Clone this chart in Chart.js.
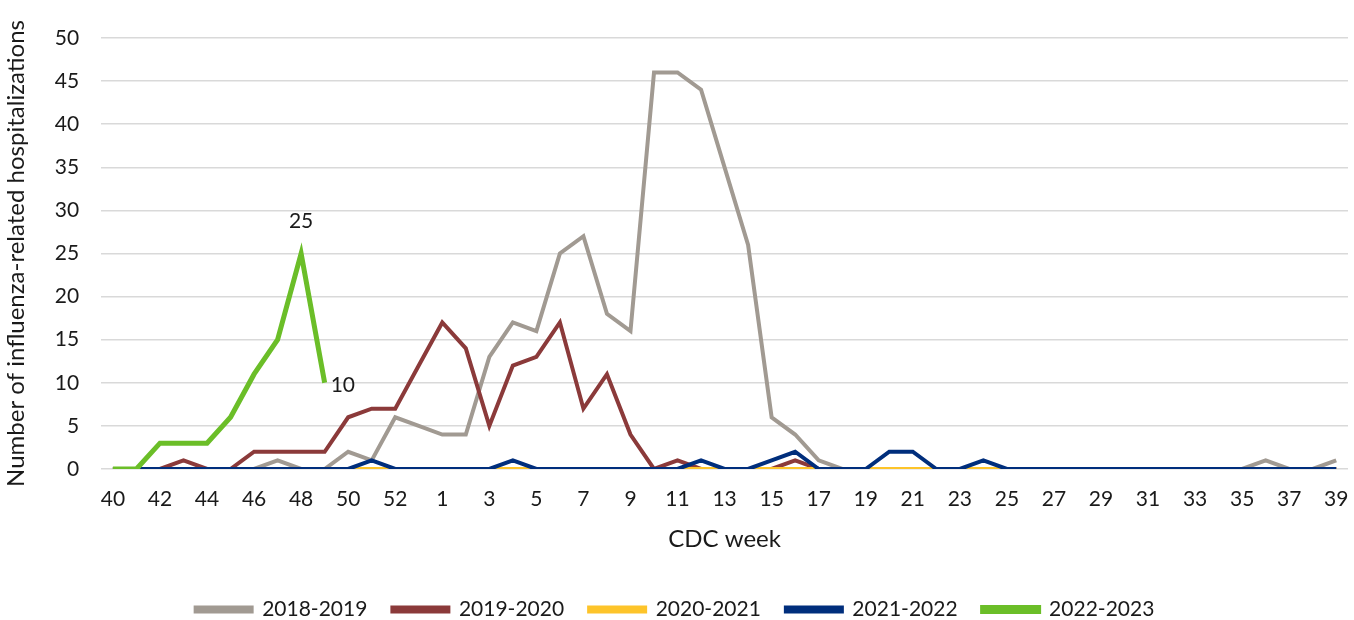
<!DOCTYPE html>
<html>
<head>
<meta charset="utf-8">
<script src="https://cdn.jsdelivr.net/npm/chart.js@4.4.0/dist/chart.umd.min.js"></script>
<style>
  body { margin: 0; background: #fff; }
  #wrap { width: 1354px; height: 620px; position: relative; }
</style>
</head>
<body>
<div id="wrap"><canvas id="myChart"></canvas></div>
<script>
// CDC weeks (season runs week 40 to week 39, with week 53)
const weeks = [40,41,42,43,44,45,46,47,48,49,50,51,52,53,1,2,3,4,5,6,7,8,9,10,11,12,13,14,15,16,17,18,19,20,21,22,23,24,25,26,27,28,29,30,31,32,33,34,35,36,37,38,39];

const s2018 = [0,0,0,0,0,0,0,1,0,0,2,1,6,5,4,4,13,17,16,25,27,18,16,46,46,44,35,26,6,4,1,0,0,0,0,0,0,0,0,0,0,0,0,0,0,0,0,0,0,1,0,0,1];
const s2019 = [0,0,0,1,0,0,2,2,2,2,6,7,7,12,17,14,5,12,13,17,7,11,4,0,1,0,0,0,0,1,0,0,0,0,0,0,0,0,0,0,0,0,0,0,0,0,0,0,0,0,0,0,0];
const s2020 = [0,0,0,0,0,0,0,0,0,0,0,0,0,0,0,0,0,0,0,0,0,0,0,0,0,0,0,0,0,0,0,0,0,0,0,0,0,0,0,0,0,0,0,0,0,0,0,0,0,0,0,0,0];
const s2021 = [0,0,0,0,0,0,0,0,0,0,0,1,0,0,0,0,0,1,0,0,0,0,0,0,0,1,0,0,1,2,0,0,0,2,2,0,0,1,0,0,0,0,0,0,0,0,0,0,0,0,0,0,0];
const s2022 = [0,0,3,3,3,6,11,15,25,10];

const yTicks = [0,5,10,15,20,25,30,35,40,45,50];
const font = 'Lato, "Open Sans", sans-serif';

// value labels on the current season
const pointLabels = {
  id: 'pointLabels',
  afterDatasetsDraw(chart) {
    const meta = chart.getDatasetMeta(4);
    const ctx = chart.ctx;
    ctx.save();
    ctx.fillStyle = '#1a1a1a';
    ctx.font = '21px ' + font;
    ctx.textBaseline = 'middle';
    const peak = meta.data[8];
    ctx.textAlign = 'center';
    ctx.fillText(String(s2022[8]), peak.x, peak.y - 32);
    const last = meta.data[9];
    ctx.textAlign = 'left';
    ctx.fillText(String(s2022[9]), last.x + 6, last.y + 2);
    ctx.restore();
  }
};

function line(label, data, color, width, order) {
  return {
    label: label,
    data: data,
    borderColor: color,
    backgroundColor: color,
    borderWidth: width,
    pointRadius: 0,
    pointHoverRadius: 0,
    tension: 0,
    fill: false,
    order: order
  };
}

let myChart = document.getElementById('myChart').getContext('2d');
let fluChart = new Chart(myChart, {
  type: 'line',
  data: {
    labels: weeks,
    datasets: [
      line('2018-2019', s2018, '#A19A92', 4, 4),
      line('2019-2020', s2019, '#8B3A3A', 4, 3),
      line('2020-2021', s2020, '#FDC42A', 4, 2),
      line('2021-2022', s2021, '#002E7C', 4, 1),
      line('2022-2023', s2022, '#6BBE28', 5, 0)
    ]
  },
  plugins: [pointLabels],
  options: {
    responsive: true,
    maintainAspectRatio: false,
    animation: false,
    layout: { padding: { top: 38, right: 6, left: 2, bottom: -10 } },
    plugins: {
      tooltip: { enabled: false },
      legend: {
        position: 'bottom',
        labels: {
          boxWidth: 56,
          boxHeight: 4,
          padding: 25,
          color: '#1a1a1a',
          font: { family: font, size: 21 },
          sort: function(a, b) { return a.datasetIndex - b.datasetIndex; }
        }
      }
    },
    scales: {
      x: {
        offset: true,
        grid: { display: false, drawTicks: true, tickLength: 16 },
        border: { display: false },
        ticks: {
          autoSkip: false,
          maxRotation: 0,
          padding: 2,
          color: '#1a1a1a',
          font: { family: font, size: 21 },
          callback: function(val, i) { return i % 2 === 0 ? weeks[i] : ''; }
        },
        title: {
          display: true,
          text: 'CDC week',
          color: '#1a1a1a',
          font: { family: font, size: 24 },
          padding: { top: 11, bottom: 20 }
        }
      },
      y: {
        min: 0,
        max: 50,
        afterBuildTicks: function(axis) { axis.ticks = yTicks.map(v => ({ value: v })); },
        grid: { color: '#D9D9D9', lineWidth: 1.5, drawTicks: false },
        border: { display: false },
        ticks: {
          padding: 22,
          color: '#1a1a1a',
          font: { family: font, size: 21 }
        },
        title: {
          display: true,
          text: 'Number of influenza-related hospitalizations',
          color: '#1a1a1a',
          font: { family: font, size: 24 },
          padding: { top: 0, bottom: 2 }
        }
      }
    }
  }
});
</script>
</body>
</html>
